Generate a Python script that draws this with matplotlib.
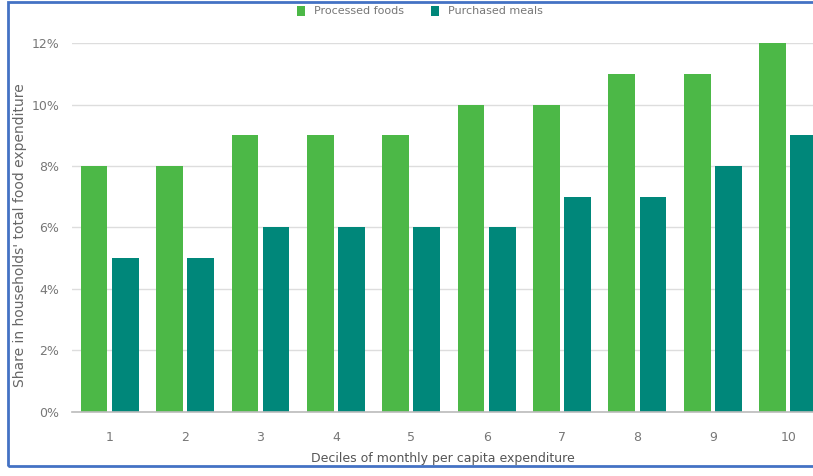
import numpy as np
import matplotlib.pyplot as plt
from matplotlib.patches import Rectangle

deciles = ["1", "2", "3", "4", "5", "6", "7", "8", "9", "10"]
processed_foods = [8, 8, 9, 9, 9, 10, 10, 11, 11, 12]
purchased_meals = [5, 5, 6, 6, 6, 6, 7, 7, 8, 9]

GREEN = "#4cb847"
TEAL = "#00877a"

plt.rcParams["font.family"] = ["DejaVu Sans"]

fig = plt.figure(figsize=(8.13, 4.76), dpi=100)
ax = fig.add_axes([72 / 813, 64.3 / 476, 1 - 72 / 813, (411.7 - 43.2) / 476])

x = np.arange(1, len(deciles) + 1)
w = 0.354
gap = 0.059
ax.bar(x - gap / 2 - w / 2, processed_foods, w, color=GREEN, label="Processed foods", zorder=3)
ax.bar(x + gap / 2 + w / 2, purchased_meals, w, color=TEAL, label="Purchased meals", zorder=3)

ax.set_xlim(0.5, 10.33)
ax.set_ylim(0, 12)
ax.set_yticks(range(0, 13, 2))
ax.set_yticklabels([f"{v}%" for v in range(0, 13, 2)])
ax.set_xticks(x)
ax.set_xticklabels(deciles)
ax.grid(axis="y", color="#dddddd", linewidth=1, zorder=0)
for s in ["top", "right", "left"]:
    ax.spines[s].set_visible(False)
ax.spines["bottom"].set_color("#bbbbbb")
ax.spines["bottom"].set_linewidth(1.2)
ax.spines["bottom"].set_zorder(4)
ax.tick_params(axis="both", length=0, labelsize=9, colors="#777777")
ax.tick_params(axis="x", pad=14)
ax.tick_params(axis="y", pad=9)

ax.set_xlabel("Deciles of monthly per capita expenditure", fontsize=9, color="#555555", labelpad=6)
fig.text(20 / 813, 1 - 235 / 476, "Share in households' total food expenditure", rotation=90,
         ha="center", va="center", fontsize=10, color="#666666")

fig.legend(loc="upper center", bbox_to_anchor=(420 / 813, 1.0), ncol=2, frameon=False,
           fontsize=8, handlelength=0.7, handleheight=1.0, handletextpad=0.8,
           columnspacing=2.5, labelcolor="#777777", borderaxespad=0.1)

fig.patches.append(Rectangle((8 / 813, 10 / 476), 1.0, 464 / 476, transform=fig.transFigure,
                             fill=False, edgecolor="#4472c4", linewidth=2, zorder=10))

fig.savefig("out.png", dpi=100)
